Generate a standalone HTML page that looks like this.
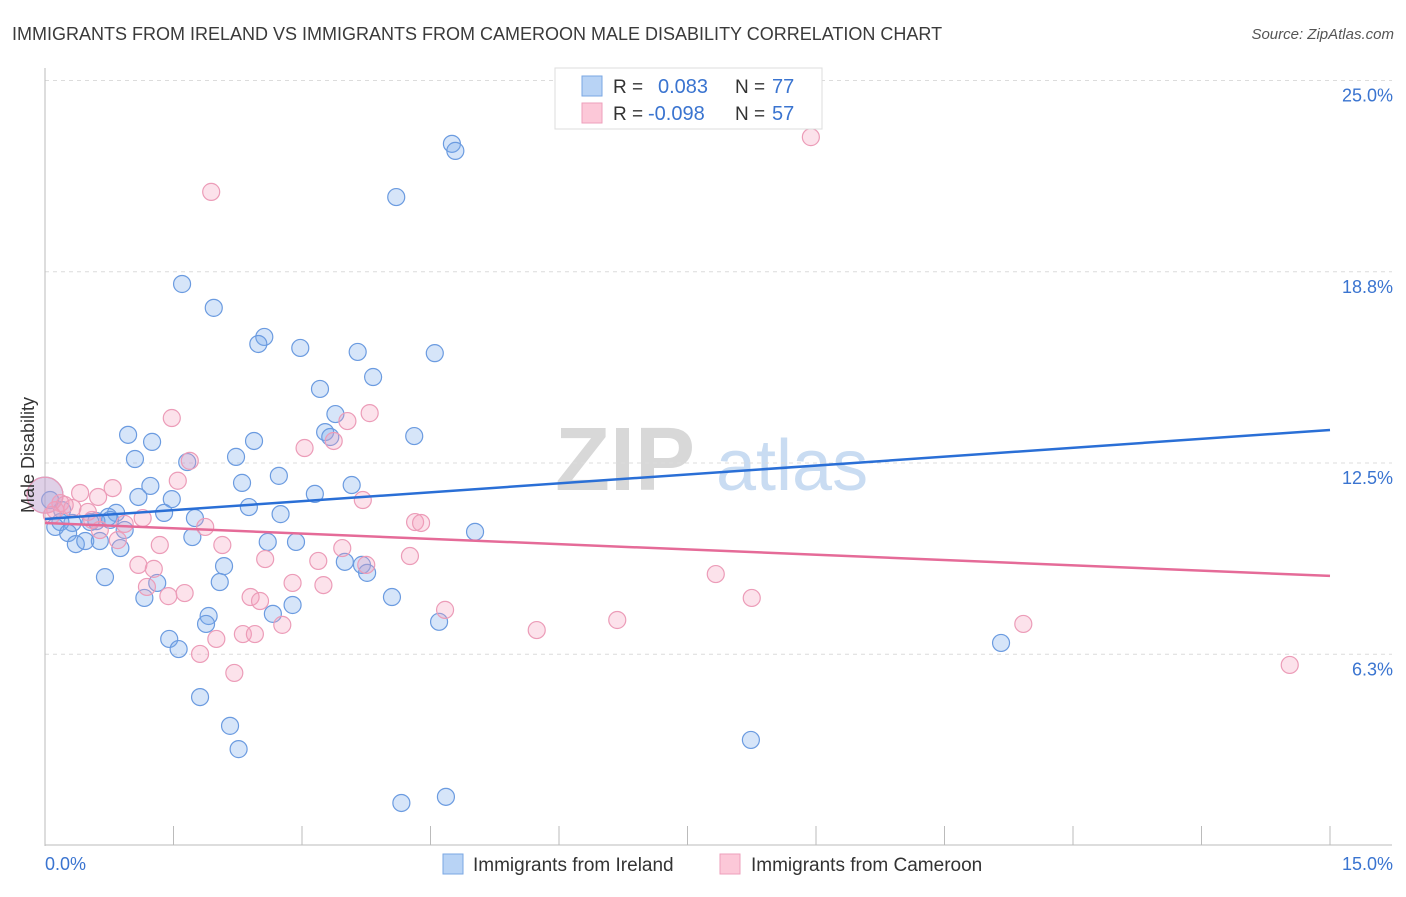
<!DOCTYPE html>
<html><head><meta charset="utf-8"><style>
body{margin:0;background:#fff;font-family:"Liberation Sans",sans-serif}
svg text{font-family:"Liberation Sans",sans-serif}
</style></head><body>
<svg id="chart" width="1406" height="892" viewBox="0 0 1406 892" xmlns="http://www.w3.org/2000/svg">
<text x="12" y="40" font-size="18" fill="#3a3a3a">IMMIGRANTS FROM IRELAND VS IMMIGRANTS FROM CAMEROON MALE DISABILITY CORRELATION CHART</text>
<text x="1394" y="39" font-size="15" fill="#555" font-style="italic" text-anchor="end">Source: ZipAtlas.com</text>
<g>
<text x="555" y="490" font-size="90" fill="#d8d8d8" font-family="Liberation Serif" font-weight="bold">ZIP</text>
<text x="716" y="490" font-size="72" fill="#c9dcf2">atlas</text>
</g>
<g id="grid"></g>
<g id="axes"></g>
<g id="pts"></g>
<g id="trends"></g>
<text transform="translate(34,455) rotate(-90)" font-size="18" fill="#333" text-anchor="middle">Male Disability</text>
<g>
<rect x="555" y="68" width="267" height="61" fill="#fff" stroke="#ddd"/>
<rect x="582" y="76" width="20" height="20" fill="#b8d3f5" stroke="#7aa7e3"/>
<rect x="582" y="103" width="20" height="20" fill="#fcc8d8" stroke="#ee9fbb"/>
<text x="613" y="93" font-size="19" fill="#333">R =</text>
<text x="658" y="93" font-size="20" fill="#3a74d0">0.083</text>
<text x="735" y="93" font-size="19" fill="#333">N =</text>
<text x="772" y="93" font-size="20" fill="#3a74d0">77</text>
<text x="613" y="120" font-size="19" fill="#333">R =</text>
<text x="648" y="120" font-size="20" fill="#3a74d0">-0.098</text>
<text x="735" y="120" font-size="19" fill="#333">N =</text>
<text x="772" y="120" font-size="20" fill="#3a74d0">57</text>
</g>
<g>
<rect x="443" y="854" width="20" height="20" fill="#b8d3f5" stroke="#7aa7e3"/>
<text x="473" y="871" font-size="19" fill="#333">Immigrants from Ireland</text>
<rect x="720" y="854" width="20" height="20" fill="#fcc8d8" stroke="#ee9fbb"/>
<text x="751" y="871" font-size="19" fill="#333">Immigrants from Cameroon</text>
</g>
</svg>
<script>
const yTicks=[25,18.75,12.5,6.25];
const yTickLabels=["25.0%","18.8%","12.5%","6.3%"];
const xTicks=[0,1.5,3,4.5,6,7.5,9,10.5,12,13.5,15];
const blueX=[4.75,4.79,4.10,1.60,1.97,2.56,2.49,2.98,3.65,4.55,3.83,3.21,3.39,4.31,0.97,3.27,3.33,1.25,2.44,1.05,2.23,1.66,2.73,1.23,2.30,3.58,1.48,1.09,3.15,2.38,1.39,2.75,1.75,5.02,0.83,0.74,0.60,0.53,0.32,0.18,0.12,0.27,0.36,0.47,0.64,0.88,0.93,1.72,2.60,2.93,3.50,3.70,3.76,2.09,0.70,1.31,2.04,1.16,4.05,2.89,2.66,1.91,1.88,4.60,1.45,1.56,11.16,1.81,2.16,2.26,8.24,4.16,4.68,0.06,0.0,0.76,0.20];
const blueY=[22.93,22.70,21.19,18.35,17.57,16.62,16.39,16.26,16.13,16.09,15.31,14.92,14.10,13.38,13.42,13.51,13.35,13.19,13.22,12.63,12.70,12.53,12.08,11.75,11.85,11.78,11.32,11.39,11.49,11.06,10.87,10.83,10.70,10.25,10.87,10.74,10.60,10.57,10.54,10.57,10.41,10.21,9.85,9.95,9.95,9.72,10.31,10.08,9.92,9.92,9.27,9.17,8.91,9.13,8.77,8.58,8.61,8.09,8.12,7.86,7.57,7.50,7.24,7.31,6.75,6.42,6.62,4.85,3.91,3.15,3.45,1.39,1.59,11.29,11.45,10.64,10.96];
const pinkX=[8.94,1.94,1.48,3.53,3.79,3.03,3.37,1.69,1.55,0.79,0.41,0.62,3.71,0.18,0.32,0.12,1.14,1.87,0.93,4.32,4.39,0.55,0.85,1.34,2.07,3.47,4.26,2.57,3.19,1.09,1.27,3.75,7.83,2.89,3.25,1.19,1.63,1.44,2.40,2.51,4.67,8.25,2.77,6.68,5.74,11.42,2.31,2.45,2.00,1.81,2.21,14.53,0.0,0.08,0.64,0.23,0.50];
const pinkY=[23.15,21.36,13.97,13.87,14.13,12.99,13.22,12.57,11.92,11.68,11.52,11.39,11.29,11.19,11.03,10.96,10.70,10.41,10.51,10.57,10.54,10.64,9.98,9.82,9.82,9.72,9.46,9.36,9.30,9.17,9.04,9.17,8.87,8.58,8.51,8.45,8.25,8.15,8.12,7.99,7.70,8.09,7.21,7.37,7.04,7.24,6.91,6.91,6.75,6.26,5.64,5.90,11.45,10.80,10.31,11.13,10.90];
const blueTrend=[10.67,13.58];
const pinkTrend=[10.54,8.81];
const NS="http://www.w3.org/2000/svg";
const X0=45,X1=1330,Y0=845.5,PPY=30.6;
const sx=v=>X0+(X1-X0)*v/15;
const sy=v=>Y0-v*PPY;
function mk(tag,attrs,parent){const e=document.createElementNS(NS,tag);for(const k in attrs)e.setAttribute(k,attrs[k]);parent.appendChild(e);return e;}
const grid=document.getElementById('grid'),axes=document.getElementById('axes'),pts=document.getElementById('pts'),tr=document.getElementById('trends');
yTicks.forEach((t,i)=>{
 const l=mk('line',{x1:X0,x2:1392,y1:sy(t),y2:sy(t),stroke:'#dcdcdc','stroke-dasharray':'4,4'},grid);
 
 
 const tx=mk('text',{x:1393,y:sy(t)+21,'font-size':18,fill:'#3a74d0','text-anchor':'end'},axes);
 tx.textContent=yTickLabels[i];
 
 
});
const yl=mk('line',{x1:X0,x2:X0,y1:68,y2:846,stroke:'#bbb'},axes);


const xl=mk('line',{x1:X0,x2:1392,y1:845,y2:845,stroke:'#bbb'},axes);


xTicks.forEach(t=>{
 const l=mk('line',{x1:sx(t),x2:sx(t),y1:826,y2:845,stroke:'#bbb'},axes);
 
 
});
const a=mk('text',{x:45,y:870,'font-size':18,fill:'#3a74d0'},axes);a.textContent='0.0%';


const b=mk('text',{x:1393,y:870,'font-size':18,fill:'#3a74d0','text-anchor':'end'},axes);b.textContent='15.0%';


function dots(xs,ys,fill,stroke,name){
 xs.forEach((x,i)=>{
  const r=(x===0)?18:8.5;
  const c=mk('circle',{cx:sx(x),cy:sy(ys[i]),r:r,fill:fill,stroke:stroke,'stroke-width':1.2},pts);
  
  
 });
}
dots(blueX,blueY,'rgba(120,170,235,0.3)','#6b9be0','ireland-point');
dots(pinkX,pinkY,'rgba(245,160,190,0.3)','#ec9cb8','cameroon-point');
const t1=mk('line',{x1:sx(0),y1:sy(blueTrend[0]),x2:sx(15),y2:sy(blueTrend[1]),stroke:'#2a6fd6','stroke-width':2.5},tr);


const t2=mk('line',{x1:sx(0),y1:sy(pinkTrend[0]),x2:sx(15),y2:sy(pinkTrend[1]),stroke:'#e56b98','stroke-width':2.5},tr);


</script>
</body></html>
